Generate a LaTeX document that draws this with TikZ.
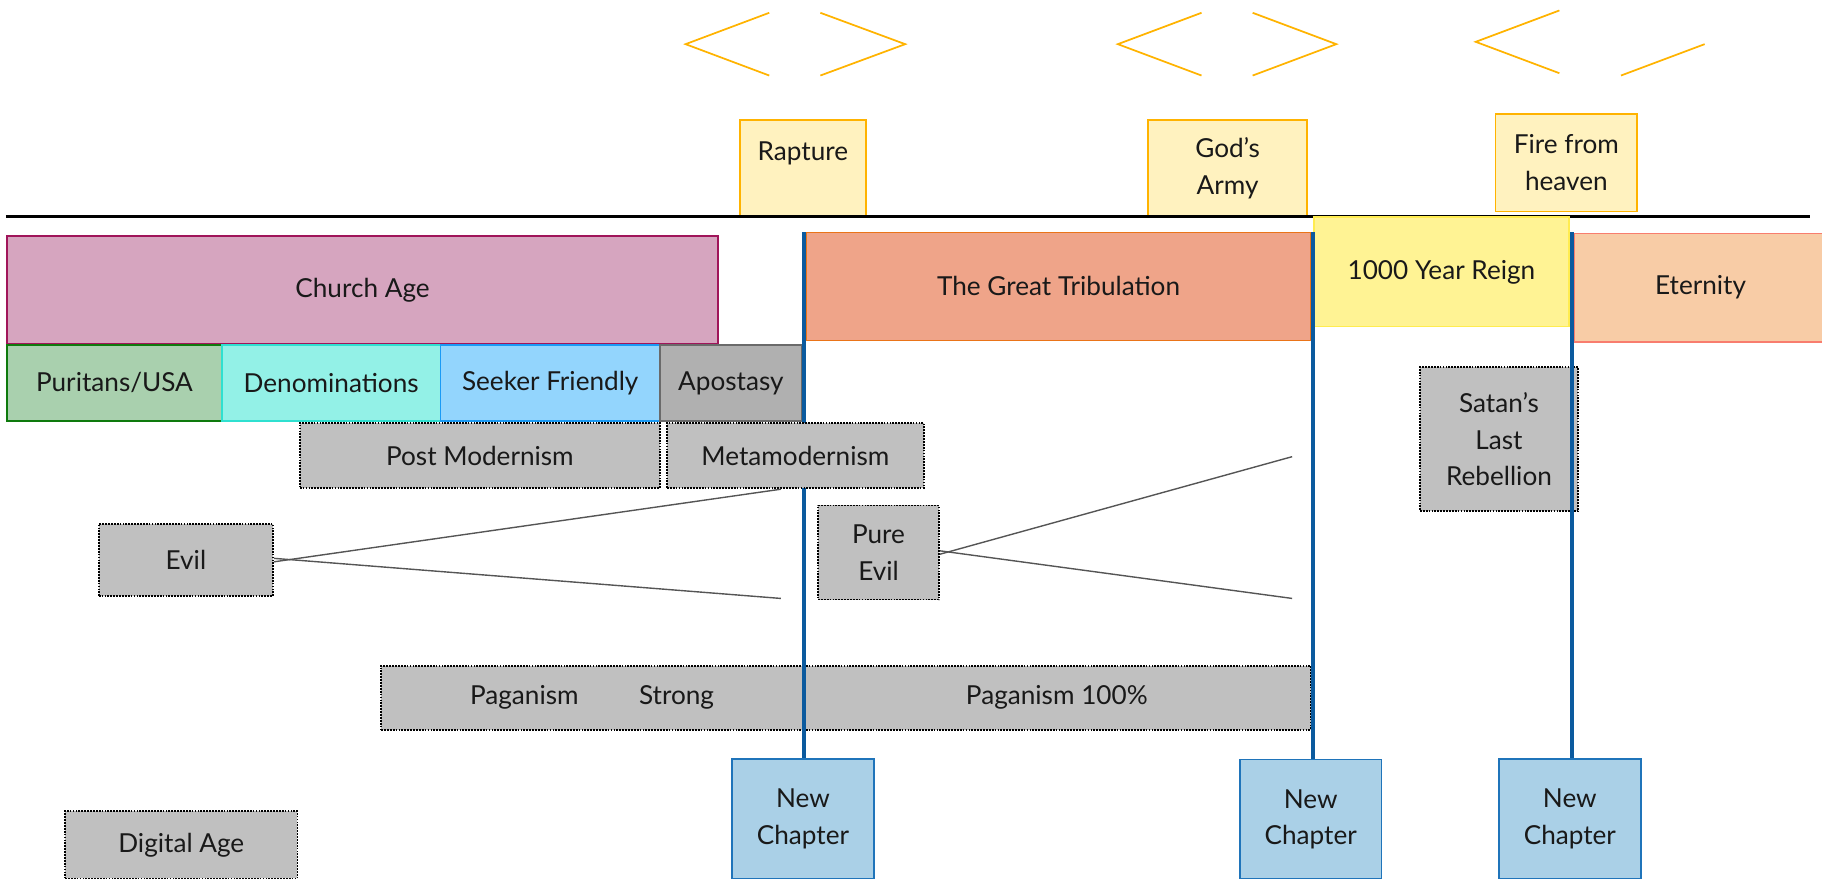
\documentclass[tikz,border=0pt]{standalone}
\usepackage{fontspec}
\setmainfont{Lato}
\usepackage{tikz}

\definecolor{amber}{HTML}{FFB300}
\definecolor{eventfill}{HTML}{FFF2BF}
\definecolor{churchfill}{HTML}{D6A5BF}
\definecolor{churchline}{HTML}{A0155A}
\definecolor{puritanfill}{HTML}{A9D0AE}
\definecolor{puritanline}{HTML}{0E7A0D}
\definecolor{denomfill}{HTML}{93F1E7}
\definecolor{denomline}{HTML}{2FE0D0}
\definecolor{seekerfill}{HTML}{93D5FD}
\definecolor{seekerline}{HTML}{1A9AF5}
\definecolor{apostfill}{HTML}{B0B0B0}
\definecolor{apostline}{HTML}{6A6A6A}
\definecolor{boxgray}{HTML}{C0C0C0}
\definecolor{tribfill}{HTML}{EFA489}
\definecolor{tribline}{HTML}{EA7418}
\definecolor{reignfill}{HTML}{FFF394}
\definecolor{reignline}{HTML}{FFEC50}
\definecolor{eternfill}{HTML}{F8CCA6}
\definecolor{eternline}{HTML}{F87D6E}
\definecolor{chapblue}{HTML}{0B5A9E}
\definecolor{chapfill}{HTML}{AAD0E7}
\definecolor{chapline}{HTML}{1F74BA}
\definecolor{linkgray}{HTML}{555555}

\begin{document}
\begin{tikzpicture}[x=1pt, y=-1pt, font=\fontsize{22.5}{31.5}\selectfont, text=black!90,
    box/.style={draw, line width=1.5pt, inner sep=0pt, align=center},
    dotbox/.style={box, densely dotted, draw=black, fill=boxgray},
    eventbox/.style={box, draw=amber, fill=eventfill},
    chapterbox/.style={box, draw=chapline, fill=chapfill, minimum width=122pt, minimum height=103pt},
    chevron/.style={draw=amber, line width=1.5pt},
    divider/.style={draw=chapblue, line width=3pt},
    link/.style={draw=linkgray, line width=1.2pt}]
    \useasboundingbox (0,0) rectangle (1568,756);

    % 矢印
    \draw[chevron] (662,11) -- (590,38) -- (662,65);
    \draw[chevron] (706,11) -- (779,38) -- (706,65);
    \draw[chevron] (1034,11) -- (962,38) -- (1034,65);
    \draw[chevron] (1078,11) -- (1150,38) -- (1078,65);
    \draw[chevron] (1342,9) -- (1270,36) -- (1342,63);
    \draw[chevron] (1395,65) -- (1467,38);

    % 出来事
    \node[eventbox, minimum width=108pt, minimum height=84pt, text height=16pt, text depth=30pt] (rapture) at (691,145) {Rapture};
    \node[eventbox, minimum width=137pt, minimum height=84pt] (army) at (1056.5,145) {God’s\\Army};
    \node[eventbox, minimum width=122pt, minimum height=84pt] (fire) at (1348,140) {Fire from\\heaven};

    % 時間軸
    \draw[line width=2.5pt] (5,186) -- (1558,186);

    % 時代
    \node[box, draw=churchline, fill=churchfill, minimum width=612pt, minimum height=93pt] (church) at (312,249.5) {Church Age};
    \node[box, draw=tribline, fill=tribfill, minimum width=434pt, minimum height=93pt] (trib) at (911,246.5) {The Great Tribulation};
    \node[box, draw=reignline, fill=reignfill, minimum width=219pt, minimum height=94pt] (reign) at (1240.5,234) {1000 Year Reign};
    \node[box, draw=eternline, fill=eternfill, minimum width=217pt, minimum height=93pt] (eternity) at (1463.5,247.5) {Eternity};

    % 教会
    \node[box, draw=puritanline, fill=puritanfill, minimum width=185pt, minimum height=65pt] (puritans) at (98.5,329.5) {Puritans/USA};
    \node[box, draw=denomline, fill=denomfill, minimum width=188pt, minimum height=65pt] (denom) at (285,329.5) {Denominations};
    \node[box, draw=seekerline, fill=seekerfill, minimum width=189pt, minimum height=65pt] (seeker) at (473.5,329.5) {Seeker Friendly};
    \node[box, draw=apostline, fill=apostfill, minimum width=122pt, minimum height=65pt] (apostasy) at (629,329.5) {Apostasy};

    % 灰色の箱
    \node[dotbox, minimum width=310pt, minimum height=56pt] (postmod) at (413,392) {Post Modernism};
    \node[dotbox, minimum width=150pt, minimum height=62pt] (evil) at (160,482) {Evil};
    \node[dotbox, minimum width=104pt, minimum height=81pt] (pureevil) at (756,475.5) {Pure\\Evil};
    \node[dotbox, minimum width=136pt, minimum height=124pt] (satan) at (1290,378) {Satan’s\\Last\\Rebellion};
    \node[dotbox, minimum width=363pt, minimum height=55pt] (pagstrong) at (509.5,600.5) {Paganism\hspace{52pt}Strong};
    \node[dotbox, minimum width=437pt, minimum height=55pt] (pagfull) at (909.5,600.5) {Paganism 100\%};
    \node[dotbox, minimum width=200pt, minimum height=58pt] (digital) at (156,727) {Digital Age};

    % 新しい章
    \node[chapterbox] (chapterA) at (691,704.5) {New\\Chapter};
    \node[chapterbox] (chapterB) at (1128,705) {New\\Chapter};
    \node[chapterbox] (chapterC) at (1351,704.5) {New\\Chapter};
    \coordinate (topA) at (692,200);
    \coordinate (topB) at (1130,200);
    \coordinate (topC) at (1353,200);
    \draw[divider] (topA) -- (chapterA.north -| topA);
    \draw[divider] (topB) -- (chapterB.north -| topB);
    \draw[divider] (topC) -- (chapterC.north -| topC);

    \node[dotbox, minimum width=221pt, minimum height=56pt] (metamod) at (684.5,392) {Metamodernism};

    % 線
    \coordinate (evilup) at (672,421);
    \coordinate (evildown) at (672,515);
    \coordinate (pureup) at (1112,393);
    \coordinate (puredown) at (1112,515);
    \draw[link] ([yshift=-1.5pt]evil.east) -- (evilup);
    \draw[link] ([yshift=1.5pt]evil.east) -- (evildown);
    \draw[link] ([yshift=-1.5pt]pureevil.east) -- (pureup);
    \draw[link] ([yshift=1.5pt]pureevil.east) -- (puredown);
  \end{tikzpicture}
\end{document}
